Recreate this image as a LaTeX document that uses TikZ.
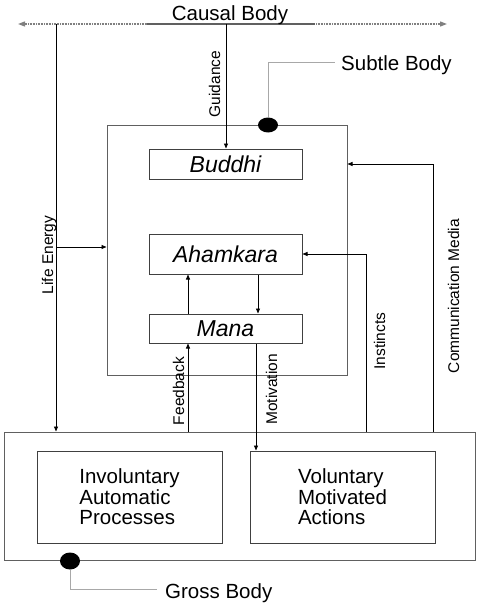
\documentclass[tikz,border=0pt]{standalone}
\usepackage{fontspec}
\setmainfont{Liberation Sans}
\usetikzlibrary{arrows.meta,shapes.geometric}
\definecolor{boxgray}{HTML}{404040}
\definecolor{outergray}{HTML}{606060}
\definecolor{leadgray}{HTML}{A8A8A8}
\definecolor{dotgray}{HTML}{808080}
\begin{document}
\begin{tikzpicture}[x=1pt,y=-1pt,
  box/.style={draw=boxgray, line width=1pt, inner sep=0pt},
  outer/.style={draw=outergray, line width=1pt, inner sep=0pt},
  mind/.style={box, minimum width=153pt, font=\fontsize{23}{23}\selectfont\itshape},
  body/.style={box, minimum width=185pt, minimum height=92pt, align=left,
    font=\fontsize{20.5}{20.5}\selectfont},
  big/.style={inner sep=0pt, font=\fontsize{20.5}{20.5}\selectfont},
  lbl/.style={inner sep=0pt, rotate=90, anchor=base, font=\fontsize{15.5}{15.5}\selectfont},
  conn/.style={black, line width=0.9pt, -{Triangle[length=5pt,width=4pt]}},
  lead/.style={leadgray, line width=1pt},
  blob/.style={fill=black, draw=none, ellipse, inner sep=0pt}]
\useasboundingbox (0,0) rectangle (482,607);

% outer boxes
\node[outer, minimum width=240pt, minimum height=250pt] (subtle) at (227,250) {};
\node[outer, minimum width=471pt, minimum height=128pt] (gross) at (239.5,496) {};

% inner boxes
\node[mind, minimum height=30pt] (buddhi) at (225.5,164) {Buddhi};
\node[mind, minimum height=40pt] (ahamkara) at (225.5,254) {Ahamkara};
\node[mind, minimum height=29pt] (mana) at (225.5,328.5) {Mana};
\node[body] (invol) at (129.5,497) {Involuntary\\Automatic\\Processes};
\node[body] (vol) at (342.5,497) {Voluntary\\Motivated\\Actions};

% causal body line
\coordinate (cl) at (18,24);
\coordinate (cr) at (447,24);
\coordinate (cm1) at (147,24);
\coordinate (cm2) at (315,24);
\draw[dotgray, line width=1.2pt, dash pattern=on 1pt off 0.6pt,
  {Triangle[length=7pt,width=5pt]}-{Triangle[length=7pt,width=5pt]}] (cl) -- (cr);
\draw[outergray, line width=1.2pt] (cm1) -- (cm2);
\node[big, anchor=base] (causal) at (230,21) {Causal Body};

% x positions of vertical connectors
\coordinate (lex) at (56,24);
\coordinate (gdx) at (226,24);
\coordinate (fbx) at (188,0);
\coordinate (dnx) at (258,0);
\coordinate (motx) at (256,0);
\coordinate (insx) at (366,0);
\coordinate (cmx) at (433,0);
\coordinate (cmy) at (0,164);
\coordinate (ley) at (0,247);

% life energy
\draw[conn] (lex) -- (lex |- gross.north);
\coordinate (lej) at (lex |- ley);
\draw[conn] (lej) -- (lej -| subtle.west);
\node[lbl] (lbllife) at (53,255) {Life Energy};

% guidance
\draw[conn] (gdx) -- (gdx |- buddhi.north);
\node[lbl] (lblguid) at (220,84) {Guidance};

% ahamkara <-> mana
\draw[conn] (mana.north -| fbx) -- (ahamkara.south -| fbx);
\draw[conn] (ahamkara.south -| dnx) -- (mana.north -| dnx);

% feedback
\draw[conn] (gross.north -| fbx) -- (mana.south -| fbx);
\node[lbl] (lblfeed) at (184,391) {Feedback};

% motivation
\draw[conn] (mana.south -| motx) -- (vol.north -| motx);
\node[lbl] (lblmot) at (277,389.5) {Motivation};

% instincts
\draw[conn] (gross.north -| insx) |- (ahamkara.east);
\node[lbl] (lblins) at (385,341) {Instincts};

% communication media
\draw[conn] (gross.north -| cmx) |- (subtle.east |- cmy);
\node[lbl] (lblcom) at (459,296) {Communication Media};

% subtle body marker
\node[blob, minimum width=20pt, minimum height=15pt] (sdot) at (268,125) {};
\coordinate (slead) at (335,63);
\draw[lead] (sdot.north) |- (slead);
\node[big, anchor=base west] (subtlelbl) at (341,71) {Subtle Body};

% gross body marker
\node[blob, minimum width=20pt, minimum height=17pt] (gdot) at (70,561) {};
\coordinate (glead) at (157,589);
\draw[lead] (gdot.south) |- (glead);
\node[big, anchor=base west] (grosslbl) at (165,598) {Gross Body};
\end{tikzpicture}
\end{document}
